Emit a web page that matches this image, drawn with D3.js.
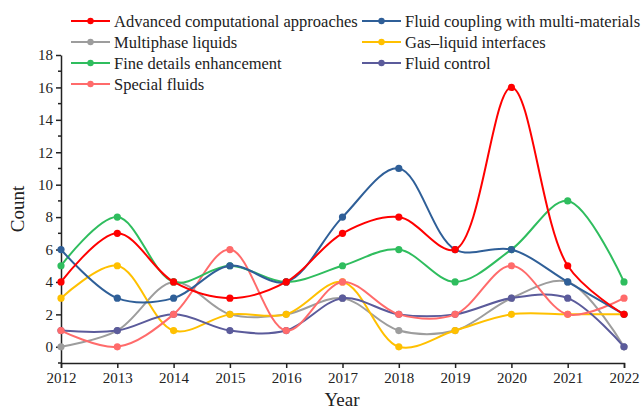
<!DOCTYPE html>
<html><head><meta charset="utf-8">
<script src="https://cdn.jsdelivr.net/npm/d3@7"></script>
<style>body{margin:0;background:#fff}svg{display:block}text{font-family:"Liberation Serif","Times New Roman",serif;fill:#222}</style>
</head><body><svg id="c" width="644" height="411"></svg>
<script>
const years = [2012,2013,2014,2015,2016,2017,2018,2019,2020,2021,2022];
const seriesNames = ["Advanced computational approaches","Fluid coupling with multi-materials","Multiphase liquids","Gas\u2013liquid interfaces","Fine details enhancement","Fluid control","Special fluids"];
const advanced = [4,7,4,3,4,7,8,6,16,5,2];
const coupling = [6,3,3,5,4,8,11,6,6,4,2];
const multiphase = [0,1,4,2,2,3,1,1,3,4,0];
const gasLiquid = [3,5,1,2,2,4,0,1,2,2,2];
const fineDetails = [5,8,4,5,4,5,6,4,6,9,4];
const fluidControl = [1,1,2,1,1,3,2,2,3,3,0];
const specialFluids = [1,0,2,6,1,4,2,2,5,2,3];
const colors = ["#ff0000","#2f5f98","#9d9d9d","#ffc000","#2fbd5e","#5b5b9b","#ff6b6b"];
const yTicks = [0,2,4,6,8,10,12,14,16,18];
const data = [advanced,coupling,multiphase,gasLiquid,fineDetails,fluidControl,specialFluids];
const drawOrder = [2,3,5,6,4,1,0];

const svg = d3.select("#c");
const x = d3.scaleLinear().domain([2012,2022]).range([61,624]);
const y = d3.scaleLinear().domain([-1,18]).range([363,55]);

const xa = svg.append("g").attr("transform","translate(0,363)")
  .call(d3.axisBottom(x).tickValues(years).tickFormat(d3.format("d")).tickSize(5).tickPadding(4));
xa.attr("font-family",null);
xa.select(".domain").attr("stroke","#222").attr("stroke-width",1.5);
xa.selectAll(".tick line").attr("stroke","#222").attr("stroke-width",1.5);
xa.selectAll("text").attr("font-size",15).attr("fill","#222");

const ya = svg.append("g").attr("transform","translate(61,0)")
  .call(d3.axisLeft(y).tickValues(yTicks).tickSize(5).tickPadding(3).tickSizeOuter(0));
ya.attr("font-family",null);
ya.select(".domain").attr("stroke","#222").attr("stroke-width",1.5);
ya.selectAll(".tick line").attr("stroke","#222").attr("stroke-width",1.5);
ya.selectAll("text").attr("font-size",15).attr("fill","#222");
const minor = d3.range(-1,18,2);
svg.append("g").selectAll("line").data(minor).join("line")
  .attr("x1",58).attr("x2",61).attr("y1",d=>y(d)).attr("y2",d=>y(d))
  .attr("stroke","#222").attr("stroke-width",1.5);

svg.append("text").attr("x",342).attr("y",406).attr("text-anchor","middle").attr("font-size",19).text("Year");
svg.append("text").attr("transform","translate(24,209) rotate(-90)").attr("text-anchor","middle").attr("font-size",19).text("Count");

const line = d3.line().x((d,i)=>x(years[i])).y(d=>y(d)).curve(d3.curveCatmullRom.alpha(0.5));
const g = svg.append("g");
drawOrder.forEach(k=>{
  g.append("path").attr("d",line(data[k])).attr("fill","none").attr("stroke",colors[k]).attr("stroke-width",2);
  g.selectAll(null).data(data[k]).join("circle").attr("cx",(d,i)=>x(years[i])).attr("cy",d=>y(d)).attr("r",3.6).attr("fill",colors[k]);
});

const legPos = [[71,21],[362,21],[71,42],[362,42],[71,63],[362,63],[71,84]];
const lg = svg.append("g");
seriesNames.forEach((n,k)=>{
  const [lx,ly] = legPos[k];
  lg.append("line").attr("x1",lx).attr("x2",lx+39).attr("y1",ly).attr("y2",ly).attr("stroke",colors[k]).attr("stroke-width",2);
  lg.append("circle").attr("cx",lx+19.5).attr("cy",ly).attr("r",3.2).attr("fill",colors[k]);
  lg.append("text").attr("x",lx+43).attr("y",ly+5.5).attr("font-size",16.5).text(n);
});
</script></body></html>
